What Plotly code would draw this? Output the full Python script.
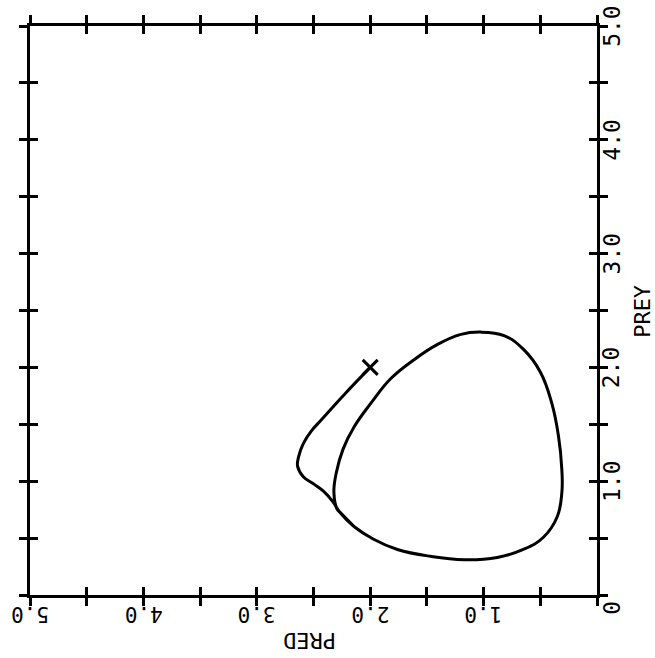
import plotly.graph_objects as go

# Predator-prey phase trajectory: starts at the X, then settles onto the limit cycle
pred = [2.00, 2.23, 2.43, 2.52, 2.59, 2.63, 2.64, 2.59, 2.49, 2.41, 2.33, 2.27,
        2.14, 1.97, 1.76, 1.47, 1.17, 0.88, 0.65, 0.47, 0.35, 0.31, 0.31,
        0.34, 0.40, 0.50, 0.65, 0.82, 1.03, 1.20, 1.41, 1.61, 1.82, 1.99,
        2.14, 2.24, 2.30, 2.32, 2.29, 2.27, 2.14]
prey = [2.00, 1.76, 1.54, 1.44, 1.33, 1.22, 1.13, 1.04, 0.97, 0.91, 0.82, 0.73,
        0.60, 0.49, 0.40, 0.34, 0.31, 0.33, 0.40, 0.51, 0.69, 0.90, 1.10,
        1.40, 1.69, 1.96, 2.16, 2.28, 2.31, 2.29, 2.20, 2.07, 1.90, 1.69,
        1.48, 1.28, 1.07, 0.90, 0.75, 0.73, 0.60]
start_pred = [2.0]
start_prey = [2.0]

tick_vals = [0, 0.5, 1, 1.5, 2, 2.5, 3, 3.5, 4, 4.5, 5]
label_vals = [0, 1, 2, 3, 4, 5]
label_text = ["0", "1.0", "2.0", "3.0", "4.0", "5.0"]

FONT = "DejaVu Sans Mono"
INK = "black"

fig = go.Figure()
fig.add_trace(go.Scatter(x=pred, y=prey, mode="lines",
                         line=dict(color=INK, width=3, shape="spline", smoothing=1.2),
                         hoverinfo="skip"))
fig.add_trace(go.Scatter(x=start_pred, y=start_prey, mode="markers",
                         marker=dict(symbol="x-thin", size=15,
                                     line=dict(color=INK, width=3)),
                         hoverinfo="skip"))
# invisible trace so the overlaid (inside-tick) axes are drawn
fig.add_trace(go.Scatter(x=[None], y=[None], xaxis="x2", yaxis="y2",
                         mode="markers", showlegend=False, hoverinfo="skip"))

common = dict(tickvals=tick_vals, ticklen=8, tickwidth=2.5, tickcolor=INK,
              showgrid=False, zeroline=False, fixedrange=True,
              showticklabels=False)

annotations = []
# PRED tick labels, printed upside down under the bottom axis
# (the origin shares the single "0" printed on the PREY axis)
for v, t in zip(label_vals, label_text):
    if v == 0:
        continue
    annotations.append(dict(text=t, xref="x", yref="paper", x=v, y=-0.0330,
                            showarrow=False, textangle=180,
                            font=dict(size=21),
                            xanchor="center", yanchor="middle"))
# PREY tick labels, reading upward beside the right axis
for v, t in zip(label_vals, label_text):
    annotations.append(dict(text=t, xref="paper", yref="y", x=1.0262, y=v,
                            showarrow=False, textangle=-90,
                            font=dict(size=23),
                            xanchor="center", yanchor="middle",
                            yshift=-13 if v == 0 else 0))
annotations += [
    dict(text="PRED", xref="paper", yref="paper", x=0.492, y=-0.081,
         showarrow=False, textangle=180, font=dict(size=22),
         xanchor="center", yanchor="middle"),
    dict(text="PREY", xref="paper", yref="paper", x=1.079, y=0.499,
         showarrow=False, textangle=-90, font=dict(size=22),
         xanchor="center", yanchor="middle"),
]

fig.update_layout(
    width=655, height=658,
    margin=dict(l=30, r=58, t=26, b=63),
    paper_bgcolor="white", plot_bgcolor="white",
    showlegend=False,
    font=dict(family=FONT, size=21, color=INK),
    xaxis=dict(common, range=[5, 0], ticks="outside", mirror="ticks",
               showline=True, linewidth=3, linecolor=INK),
    yaxis=dict(common, range=[0, 5], ticks="outside", side="right",
               mirror="ticks", showline=True, linewidth=3, linecolor=INK),
    xaxis2=dict(common, range=[5, 0], overlaying="x", anchor="y2",
                ticks="inside", mirror="ticks", showline=False),
    yaxis2=dict(common, range=[0, 5], overlaying="y", anchor="x2",
                side="right", ticks="inside", mirror="ticks",
                showline=False),
    annotations=annotations,
)

fig.write_html("out.html")
